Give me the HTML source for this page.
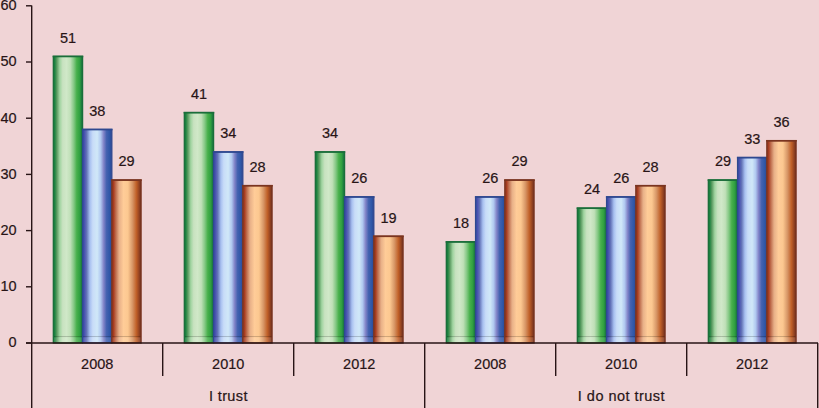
<!DOCTYPE html><html><head><meta charset="utf-8"><style>html,body{margin:0;padding:0;background:#f0d4d6;}svg{display:block;}text{font-family:"Liberation Sans",sans-serif;font-size:14.5px;fill:#281416;stroke:#281416;stroke-width:0.2px;}</style></head><body>
<svg width="819" height="408" viewBox="0 0 819 408">
<rect x="0" y="0" width="819" height="408" fill="#f0d4d6"/>
<defs>
<linearGradient id="g" x1="0" y1="0" x2="1" y2="0">
<stop offset="0%" stop-color="#17703a"/>
<stop offset="5%" stop-color="#1c8440"/>
<stop offset="12%" stop-color="#5a9a60"/>
<stop offset="22%" stop-color="#a0d4a0"/>
<stop offset="32%" stop-color="#c8e2c0"/>
<stop offset="45%" stop-color="#d0e8c8"/>
<stop offset="58%" stop-color="#c0e0b8"/>
<stop offset="70%" stop-color="#84c884"/>
<stop offset="80%" stop-color="#48b04c"/>
<stop offset="90%" stop-color="#30a040"/>
<stop offset="96%" stop-color="#1f8040"/>
<stop offset="100%" stop-color="#1a6a3a"/>
</linearGradient>
<linearGradient id="b" x1="0" y1="0" x2="1" y2="0">
<stop offset="0%" stop-color="#34509e"/>
<stop offset="6%" stop-color="#4850b0"/>
<stop offset="14%" stop-color="#6474b8"/>
<stop offset="25%" stop-color="#a8c0f0"/>
<stop offset="35%" stop-color="#c8dcf8"/>
<stop offset="50%" stop-color="#d0e8f8"/>
<stop offset="62%" stop-color="#b0c8f0"/>
<stop offset="72%" stop-color="#8284c8"/>
<stop offset="82%" stop-color="#4462b0"/>
<stop offset="92%" stop-color="#3058a8"/>
<stop offset="100%" stop-color="#2e4690"/>
</linearGradient>
<linearGradient id="o" x1="0" y1="0" x2="1" y2="0">
<stop offset="0%" stop-color="#8a3a22"/>
<stop offset="6%" stop-color="#a83c20"/>
<stop offset="14%" stop-color="#c07050"/>
<stop offset="25%" stop-color="#e8b088"/>
<stop offset="40%" stop-color="#ffcc98"/>
<stop offset="55%" stop-color="#fcc890"/>
<stop offset="70%" stop-color="#d89868"/>
<stop offset="84%" stop-color="#c06028"/>
<stop offset="94%" stop-color="#904020"/>
<stop offset="100%" stop-color="#6a3020"/>
</linearGradient>
<linearGradient id="hl" x1="0" y1="0" x2="0" y2="1"><stop offset="0" stop-color="#ffffff" stop-opacity="0.22"/><stop offset="1" stop-color="#ffffff" stop-opacity="0"/></linearGradient>
</defs>
<rect x="53.33" y="56.33" width="29.25" height="286.67" fill="url(#g)" stroke="#1a6e3a" stroke-width="1.3"/>
<rect x="52.68" y="55.68" width="30.55" height="1.6" fill="#1a6e3a"/>
<rect x="53.98" y="336.00" width="27.95" height="1" fill="#000" fill-opacity="0.18"/>
<rect x="53.98" y="337.50" width="27.95" height="4.5" fill="#fff" fill-opacity="0.12"/>
<text transform="translate(67.95,42.68) scale(1,1.07)" text-anchor="middle">51</text>
<rect x="82.58" y="129.39" width="29.25" height="213.61" fill="url(#b)" stroke="#2e4890" stroke-width="1.3"/>
<rect x="81.92" y="128.74" width="30.55" height="1.6" fill="#2e4890"/>
<rect x="83.23" y="336.00" width="27.95" height="1" fill="#000" fill-opacity="0.18"/>
<rect x="83.23" y="337.50" width="27.95" height="4.5" fill="#fff" fill-opacity="0.12"/>
<text transform="translate(97.20,115.74) scale(1,1.07)" text-anchor="middle">38</text>
<rect x="111.83" y="179.97" width="29.25" height="163.03" fill="url(#o)" stroke="#7a3420" stroke-width="1.3"/>
<rect x="111.17" y="179.32" width="30.55" height="1.6" fill="#7a3420"/>
<rect x="112.48" y="336.00" width="27.95" height="1" fill="#000" fill-opacity="0.18"/>
<rect x="112.48" y="337.50" width="27.95" height="4.5" fill="#fff" fill-opacity="0.12"/>
<text transform="translate(126.45,166.32) scale(1,1.07)" text-anchor="middle">29</text>
<rect x="184.32" y="112.53" width="29.25" height="230.47" fill="url(#g)" stroke="#1a6e3a" stroke-width="1.3"/>
<rect x="183.67" y="111.88" width="30.55" height="1.6" fill="#1a6e3a"/>
<rect x="184.97" y="336.00" width="27.95" height="1" fill="#000" fill-opacity="0.18"/>
<rect x="184.97" y="337.50" width="27.95" height="4.5" fill="#fff" fill-opacity="0.12"/>
<text transform="translate(198.95,98.88) scale(1,1.07)" text-anchor="middle">41</text>
<rect x="213.57" y="151.87" width="29.25" height="191.13" fill="url(#b)" stroke="#2e4890" stroke-width="1.3"/>
<rect x="212.92" y="151.22" width="30.55" height="1.6" fill="#2e4890"/>
<rect x="214.22" y="336.00" width="27.95" height="1" fill="#000" fill-opacity="0.18"/>
<rect x="214.22" y="337.50" width="27.95" height="4.5" fill="#fff" fill-opacity="0.12"/>
<text transform="translate(228.20,138.22) scale(1,1.07)" text-anchor="middle">34</text>
<rect x="242.82" y="185.59" width="29.25" height="157.41" fill="url(#o)" stroke="#7a3420" stroke-width="1.3"/>
<rect x="242.17" y="184.94" width="30.55" height="1.6" fill="#7a3420"/>
<rect x="243.47" y="336.00" width="27.95" height="1" fill="#000" fill-opacity="0.18"/>
<rect x="243.47" y="337.50" width="27.95" height="4.5" fill="#fff" fill-opacity="0.12"/>
<text transform="translate(257.45,171.94) scale(1,1.07)" text-anchor="middle">28</text>
<rect x="315.32" y="151.87" width="29.25" height="191.13" fill="url(#g)" stroke="#1a6e3a" stroke-width="1.3"/>
<rect x="314.68" y="151.22" width="30.55" height="1.6" fill="#1a6e3a"/>
<rect x="315.97" y="336.00" width="27.95" height="1" fill="#000" fill-opacity="0.18"/>
<rect x="315.97" y="337.50" width="27.95" height="4.5" fill="#fff" fill-opacity="0.12"/>
<text transform="translate(329.95,138.22) scale(1,1.07)" text-anchor="middle">34</text>
<rect x="344.57" y="196.83" width="29.25" height="146.17" fill="url(#b)" stroke="#2e4890" stroke-width="1.3"/>
<rect x="343.93" y="196.18" width="30.55" height="1.6" fill="#2e4890"/>
<rect x="345.22" y="336.00" width="27.95" height="1" fill="#000" fill-opacity="0.18"/>
<rect x="345.22" y="337.50" width="27.95" height="4.5" fill="#fff" fill-opacity="0.12"/>
<text transform="translate(359.20,183.18) scale(1,1.07)" text-anchor="middle">26</text>
<rect x="373.82" y="236.17" width="29.25" height="106.83" fill="url(#o)" stroke="#7a3420" stroke-width="1.3"/>
<rect x="373.18" y="235.52" width="30.55" height="1.6" fill="#7a3420"/>
<rect x="374.47" y="336.00" width="27.95" height="1" fill="#000" fill-opacity="0.18"/>
<rect x="374.47" y="337.50" width="27.95" height="4.5" fill="#fff" fill-opacity="0.12"/>
<text transform="translate(388.45,222.52) scale(1,1.07)" text-anchor="middle">19</text>
<rect x="446.32" y="241.79" width="29.25" height="101.21" fill="url(#g)" stroke="#1a6e3a" stroke-width="1.3"/>
<rect x="445.68" y="241.14" width="30.55" height="1.6" fill="#1a6e3a"/>
<rect x="446.97" y="336.00" width="27.95" height="1" fill="#000" fill-opacity="0.18"/>
<rect x="446.97" y="337.50" width="27.95" height="4.5" fill="#fff" fill-opacity="0.12"/>
<text transform="translate(460.95,228.14) scale(1,1.07)" text-anchor="middle">18</text>
<rect x="475.57" y="196.83" width="29.25" height="146.17" fill="url(#b)" stroke="#2e4890" stroke-width="1.3"/>
<rect x="474.93" y="196.18" width="30.55" height="1.6" fill="#2e4890"/>
<rect x="476.22" y="336.00" width="27.95" height="1" fill="#000" fill-opacity="0.18"/>
<rect x="476.22" y="337.50" width="27.95" height="4.5" fill="#fff" fill-opacity="0.12"/>
<text transform="translate(490.20,183.18) scale(1,1.07)" text-anchor="middle">26</text>
<rect x="504.82" y="179.97" width="29.25" height="163.03" fill="url(#o)" stroke="#7a3420" stroke-width="1.3"/>
<rect x="504.18" y="179.32" width="30.55" height="1.6" fill="#7a3420"/>
<rect x="505.47" y="336.00" width="27.95" height="1" fill="#000" fill-opacity="0.18"/>
<rect x="505.47" y="337.50" width="27.95" height="4.5" fill="#fff" fill-opacity="0.12"/>
<text transform="translate(519.45,166.32) scale(1,1.07)" text-anchor="middle">29</text>
<rect x="577.33" y="208.07" width="29.25" height="134.93" fill="url(#g)" stroke="#1a6e3a" stroke-width="1.3"/>
<rect x="576.68" y="207.42" width="30.55" height="1.6" fill="#1a6e3a"/>
<rect x="577.98" y="336.00" width="27.95" height="1" fill="#000" fill-opacity="0.18"/>
<rect x="577.98" y="337.50" width="27.95" height="4.5" fill="#fff" fill-opacity="0.12"/>
<text transform="translate(591.95,194.42) scale(1,1.07)" text-anchor="middle">24</text>
<rect x="606.58" y="196.83" width="29.25" height="146.17" fill="url(#b)" stroke="#2e4890" stroke-width="1.3"/>
<rect x="605.93" y="196.18" width="30.55" height="1.6" fill="#2e4890"/>
<rect x="607.23" y="336.00" width="27.95" height="1" fill="#000" fill-opacity="0.18"/>
<rect x="607.23" y="337.50" width="27.95" height="4.5" fill="#fff" fill-opacity="0.12"/>
<text transform="translate(621.20,183.18) scale(1,1.07)" text-anchor="middle">26</text>
<rect x="635.83" y="185.59" width="29.25" height="157.41" fill="url(#o)" stroke="#7a3420" stroke-width="1.3"/>
<rect x="635.18" y="184.94" width="30.55" height="1.6" fill="#7a3420"/>
<rect x="636.48" y="336.00" width="27.95" height="1" fill="#000" fill-opacity="0.18"/>
<rect x="636.48" y="337.50" width="27.95" height="4.5" fill="#fff" fill-opacity="0.12"/>
<text transform="translate(650.45,171.94) scale(1,1.07)" text-anchor="middle">28</text>
<rect x="708.33" y="179.97" width="29.25" height="163.03" fill="url(#g)" stroke="#1a6e3a" stroke-width="1.3"/>
<rect x="707.68" y="179.32" width="30.55" height="1.6" fill="#1a6e3a"/>
<rect x="708.98" y="336.00" width="27.95" height="1" fill="#000" fill-opacity="0.18"/>
<rect x="708.98" y="337.50" width="27.95" height="4.5" fill="#fff" fill-opacity="0.12"/>
<text transform="translate(722.95,166.32) scale(1,1.07)" text-anchor="middle">29</text>
<rect x="737.58" y="157.49" width="29.25" height="185.51" fill="url(#b)" stroke="#2e4890" stroke-width="1.3"/>
<rect x="736.93" y="156.84" width="30.55" height="1.6" fill="#2e4890"/>
<rect x="738.23" y="336.00" width="27.95" height="1" fill="#000" fill-opacity="0.18"/>
<rect x="738.23" y="337.50" width="27.95" height="4.5" fill="#fff" fill-opacity="0.12"/>
<text transform="translate(752.20,143.84) scale(1,1.07)" text-anchor="middle">33</text>
<rect x="766.83" y="140.63" width="29.25" height="202.37" fill="url(#o)" stroke="#7a3420" stroke-width="1.3"/>
<rect x="766.18" y="139.98" width="30.55" height="1.6" fill="#7a3420"/>
<rect x="767.48" y="336.00" width="27.95" height="1" fill="#000" fill-opacity="0.18"/>
<rect x="767.48" y="337.50" width="27.95" height="4.5" fill="#fff" fill-opacity="0.12"/>
<text transform="translate(781.45,126.98) scale(1,1.07)" text-anchor="middle">36</text>
<line x1="31.70" y1="5.60" x2="31.70" y2="408.00" stroke="#281416" stroke-width="1.4"/>
<line x1="26.00" y1="343.00" x2="31.70" y2="343.00" stroke="#281416" stroke-width="1.4"/>
<line x1="26.00" y1="286.80" x2="31.70" y2="286.80" stroke="#281416" stroke-width="1.4"/>
<line x1="26.00" y1="230.60" x2="31.70" y2="230.60" stroke="#281416" stroke-width="1.4"/>
<line x1="26.00" y1="174.40" x2="31.70" y2="174.40" stroke="#281416" stroke-width="1.4"/>
<line x1="26.00" y1="118.20" x2="31.70" y2="118.20" stroke="#281416" stroke-width="1.4"/>
<line x1="26.00" y1="62.00" x2="31.70" y2="62.00" stroke="#281416" stroke-width="1.4"/>
<line x1="26.00" y1="5.80" x2="31.70" y2="5.80" stroke="#281416" stroke-width="1.4"/>
<line x1="26.00" y1="343.00" x2="818.00" y2="343.00" stroke="#281416" stroke-width="1.4"/>
<line x1="162.70" y1="343.00" x2="162.70" y2="376.00" stroke="#281416" stroke-width="1.4"/>
<line x1="293.70" y1="343.00" x2="293.70" y2="376.00" stroke="#281416" stroke-width="1.4"/>
<line x1="424.70" y1="343.00" x2="424.70" y2="408.00" stroke="#281416" stroke-width="1.4"/>
<line x1="555.70" y1="343.00" x2="555.70" y2="376.00" stroke="#281416" stroke-width="1.4"/>
<line x1="686.70" y1="343.00" x2="686.70" y2="376.00" stroke="#281416" stroke-width="1.4"/>
<line x1="817.70" y1="343.00" x2="817.70" y2="408.00" stroke="#281416" stroke-width="1.4"/>
<text transform="translate(16.50,347.30) scale(1,1.07)" text-anchor="end">0</text>
<text transform="translate(16.50,291.10) scale(1,1.07)" text-anchor="end">10</text>
<text transform="translate(16.50,234.90) scale(1,1.07)" text-anchor="end">20</text>
<text transform="translate(16.50,178.70) scale(1,1.07)" text-anchor="end">30</text>
<text transform="translate(16.50,122.50) scale(1,1.07)" text-anchor="end">40</text>
<text transform="translate(16.50,66.30) scale(1,1.07)" text-anchor="end">50</text>
<text transform="translate(16.50,10.10) scale(1,1.07)" text-anchor="end">60</text>
<text transform="translate(97.20,369.40) scale(1,1.07)" text-anchor="middle">2008</text>
<text transform="translate(228.20,369.40) scale(1,1.07)" text-anchor="middle">2010</text>
<text transform="translate(359.20,369.40) scale(1,1.07)" text-anchor="middle">2012</text>
<text transform="translate(490.20,369.40) scale(1,1.07)" text-anchor="middle">2008</text>
<text transform="translate(621.20,369.40) scale(1,1.07)" text-anchor="middle">2010</text>
<text transform="translate(752.20,369.40) scale(1,1.07)" text-anchor="middle">2012</text>
<text transform="translate(228.20,401.40) scale(1,1.07)" text-anchor="middle" textLength="38.5">I trust</text>
<text transform="translate(621.20,401.40) scale(1,1.07)" text-anchor="middle" textLength="86.7">I do not trust</text>
</svg></body></html>
